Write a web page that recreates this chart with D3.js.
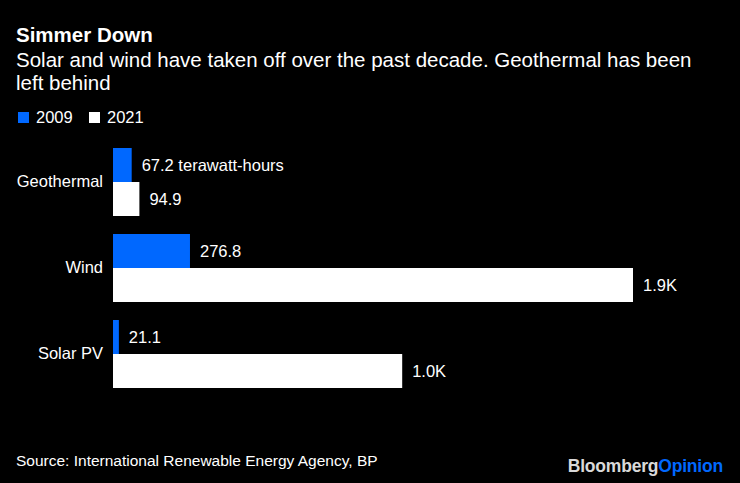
<!DOCTYPE html>
<html>
<head>
<meta charset="utf-8">
<script src="https://cdn.jsdelivr.net/npm/d3@7"></script>
<style>
  body { margin: 0; background: #000; }
  svg { display: block; font-family: "Liberation Sans", Arial, sans-serif; }
</style>
</head>
<body>
<svg id="canvas"></svg>
<script>
// data
var categories = ["Geothermal", "Wind", "Solar PV"];
var years = ["2009", "2021"];
var values2009 = [67.2, 276.8, 21.1];
var values2021 = [94.9, 1870, 1040];
var labels2009 = ["67.2 terawatt-hours", "276.8", "21.1"];
var labels2021 = ["94.9", "1.9K", "1.0K"];

var width = 740, height = 483;
var blue = "#0068ff";
var colors = [blue, "#ffffff"];

var svg = d3.select("#canvas")
    .attr("width", width)
    .attr("height", height);

svg.append("rect")
    .attr("width", width)
    .attr("height", height)
    .attr("fill", "#000");

// title + subtitle
svg.append("text")
    .attr("x", 16).attr("y", 42)
    .attr("fill", "#fff")
    .style("font-size", "20.5px")
    .style("font-weight", "bold")
    .text("Simmer Down");

var sub = ["Solar and wind have taken off over the past decade. Geothermal has been", "left behind"];
svg.selectAll(".sub")
    .data(sub)
    .enter().append("text")
    .attr("class", "sub")
    .attr("x", 16)
    .attr("y", function(d, i) { return 67 + i * 23; })
    .attr("fill", "#fff")
    .style("font-size", "20.5px")
    .text(function(d) { return d; });

// legend
var legend = svg.append("g").attr("transform", "translate(18,112)");
var legX = [0, 71];
years.forEach(function(y, i) {
    legend.append("rect")
        .attr("x", legX[i]).attr("y", 0)
        .attr("width", 11).attr("height", 11)
        .attr("fill", colors[i]);
    legend.append("text")
        .attr("x", legX[i] + 18).attr("y", 11)
        .attr("fill", "#fff")
        .style("font-size", "16.5px")
        .text(y);
});

// scales
var x = d3.scaleLinear()
    .domain([0, 1870])
    .range([113, 633]);

// each group 68px tall, step 86
var y0 = d3.scaleBand()
    .domain(categories)
    .range([148, 148 + 86 * 3 - 18])
    .paddingInner(18 / 86)
    .paddingOuter(0);

var y1 = d3.scaleBand()
    .domain(years)
    .range([0, y0.bandwidth()]);

var rows = [];
categories.forEach(function(c, i) {
    rows.push({cat: c, year: "2009", v: values2009[i], label: labels2009[i], color: colors[0]});
    rows.push({cat: c, year: "2021", v: values2021[i], label: labels2021[i], color: colors[1]});
});

var chart = svg.append("g");

chart.selectAll(".bar")
    .data(rows)
    .enter().append("rect")
    .attr("class", "bar")
    .attr("x", x(0))
    .attr("y", function(d) { return y0(d.cat) + y1(d.year); })
    .attr("width", function(d) { return x(d.v) - x(0); })
    .attr("height", y1.bandwidth())
    .attr("fill", function(d) { return d.color; });

chart.selectAll(".val")
    .data(rows)
    .enter().append("text")
    .attr("class", "val")
    .attr("x", function(d) { return x(d.v) + 10; })
    .attr("y", function(d) { return y0(d.cat) + y1(d.year) + y1.bandwidth() / 2; })
    .attr("dy", "0.35em")
    .attr("fill", "#fff")
    .style("font-size", "16.5px")
    .text(function(d) { return d.label; });

// category axis (no line, no ticks)
var yAxis = d3.axisLeft(y0).tickSize(0).tickPadding(10);
var ax = svg.append("g")
    .attr("transform", "translate(" + x(0) + ",0)")
    .call(yAxis);
ax.select(".domain").remove();
ax.selectAll("text")
    .attr("fill", "#fff")
    .style("font-size", "16.5px")
    .style("font-family", "'Liberation Sans', Arial, sans-serif");

// footer
svg.append("text")
    .attr("x", 16).attr("y", 466)
    .attr("fill", "#fff")
    .style("font-size", "15.5px")
    .text("Source: International Renewable Energy Agency, BP");

var brand = svg.append("text")
    .attr("x", 723).attr("y", 472)
    .attr("text-anchor", "end")
    .style("font-size", "17.5px")
    .style("font-weight", "bold")
    .style("letter-spacing", "-0.2px");
brand.append("tspan").attr("fill", "#d9d9d9").text("Bloomberg");
brand.append("tspan").attr("fill", blue).text("Opinion");
</script>
</body>
</html>
